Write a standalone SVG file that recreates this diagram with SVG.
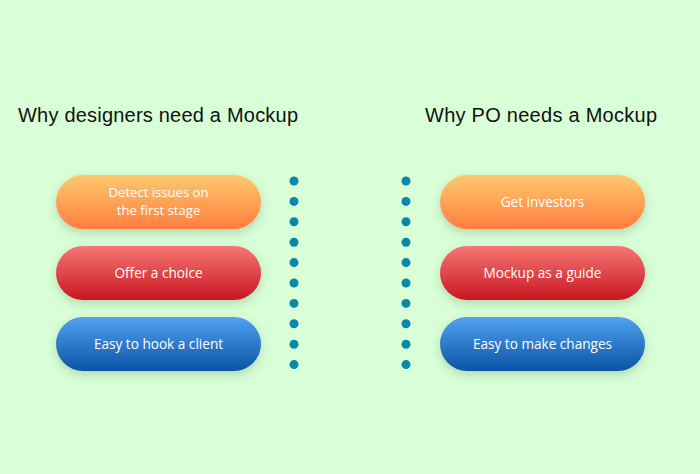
<svg xmlns="http://www.w3.org/2000/svg" width="700" height="474" viewBox="0 0 700 474">
<defs>
<linearGradient id="gO" x1="0" y1="0" x2="0" y2="1"><stop offset="0" stop-color="#FFC96E"/><stop offset="1" stop-color="#FF7D3E"/></linearGradient>
<linearGradient id="gR" x1="0" y1="0" x2="0" y2="1"><stop offset="0" stop-color="#F87775"/><stop offset="1" stop-color="#C6161F"/></linearGradient>
<linearGradient id="gB" x1="0" y1="0" x2="0" y2="1"><stop offset="0" stop-color="#52A2F2"/><stop offset="1" stop-color="#0B52A4"/></linearGradient>
<filter id="sh" x="-20%" y="-30%" width="140%" height="180%"><feDropShadow dx="0" dy="4" stdDeviation="5" flood-color="#3A6A3A" flood-opacity="0.25"/></filter>
</defs>
<style>
.h{font-family:"Liberation Sans",Arial,sans-serif;font-size:20px;fill:#111}
.t{font-family:"Open Sans","Liberation Sans",sans-serif;font-size:13.6px;fill:#fff;text-anchor:middle}
.s{font-size:13.1px}
.d{fill:#0A88A6}
.p{filter:url(#sh)}
</style>
<rect width="700" height="474" fill="#D9FFD7"/>
<text class="h" x="18" y="122" textLength="280">Why designers need a Mockup</text>
<text class="h" x="425" y="122" textLength="232">Why PO needs a Mockup</text>
<g id="l1"><rect class="p" x="56" y="175" width="205" height="54" rx="27" fill="url(#gO)"/><text class="t s" x="158.5" y="197">Detect issues on</text><text class="t s" x="158.5" y="215.2">the first stage</text></g>
<g id="l2"><rect class="p" x="56" y="246" width="205" height="54" rx="27" fill="url(#gR)"/><text class="t" x="158.5" y="278">Offer a choice</text></g>
<g id="l3"><rect class="p" x="56" y="317" width="205" height="54" rx="27" fill="url(#gB)"/><text class="t" x="158.5" y="349">Easy to hook a client</text></g>
<g id="r1"><rect class="p" x="440" y="175" width="205" height="54" rx="27" fill="url(#gO)"/><text class="t" x="542.5" y="207">Get investors</text></g>
<g id="r2"><rect class="p" x="440" y="246" width="205" height="54" rx="27" fill="url(#gR)"/><text class="t" x="542.5" y="278">Mockup as a guide</text></g>
<g id="r3"><rect class="p" x="440" y="317" width="205" height="54" rx="27" fill="url(#gB)"/><text class="t" x="542.5" y="349">Easy to make changes</text></g>
<g id="dotsL">
<circle class="d" cx="294" cy="181" r="4.5"/><circle class="d" cx="294" cy="201.4" r="4.5"/><circle class="d" cx="294" cy="221.8" r="4.5"/><circle class="d" cx="294" cy="242.2" r="4.5"/><circle class="d" cx="294" cy="262.6" r="4.5"/><circle class="d" cx="294" cy="283" r="4.5"/><circle class="d" cx="294" cy="303.4" r="4.5"/><circle class="d" cx="294" cy="323.8" r="4.5"/><circle class="d" cx="294" cy="344.2" r="4.5"/><circle class="d" cx="294" cy="364.6" r="4.5"/>
</g>
<g id="dotsR">
<circle class="d" cx="406" cy="181" r="4.5"/><circle class="d" cx="406" cy="201.4" r="4.5"/><circle class="d" cx="406" cy="221.8" r="4.5"/><circle class="d" cx="406" cy="242.2" r="4.5"/><circle class="d" cx="406" cy="262.6" r="4.5"/><circle class="d" cx="406" cy="283" r="4.5"/><circle class="d" cx="406" cy="303.4" r="4.5"/><circle class="d" cx="406" cy="323.8" r="4.5"/><circle class="d" cx="406" cy="344.2" r="4.5"/><circle class="d" cx="406" cy="364.6" r="4.5"/>
</g>
</svg>
